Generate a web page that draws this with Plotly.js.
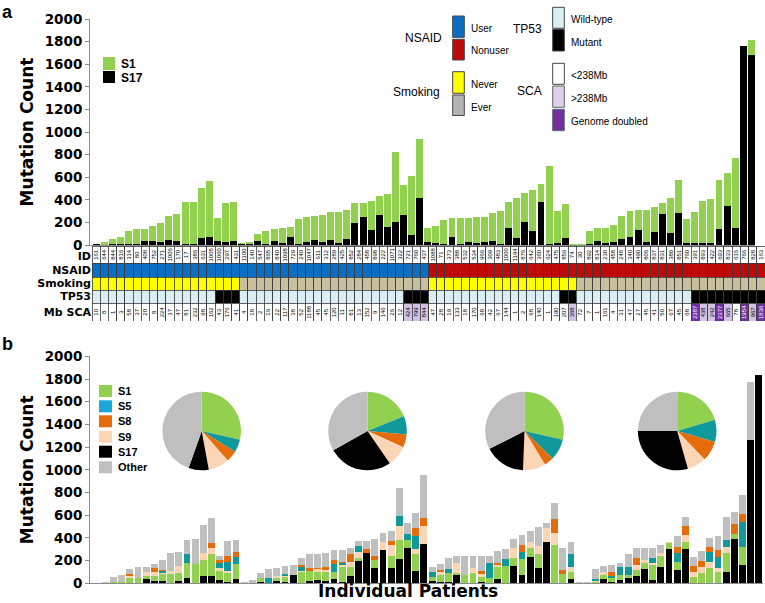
<!DOCTYPE html>
<html><head><meta charset="utf-8">
<script src="https://cdn.plot.ly/plotly-3.0.1.min.js"></script>
<style>html,body{margin:0;padding:0;background:#fff}#chart{width:765px;height:603px}</style>
</head><body><div id="chart"></div>
<script>
// ---------------- DATA ----------------
const patientIds = [161,644,844,816,314,80,408,752,271,1006,170,17,386,631,1005,1060,297,431,
 1100,140,547,865,840,1098,729,240,1047,611,312,289,425,852,284,458,898,222,1071,322,721,760,437,
 1088,71,373,388,532,534,966,309,483,1000,1194,876,642,360,624,475,856,74,
 30,892,814,230,458,248,340,490,806,837,831,380,851,760,
 391,893,422,693,833,616,766,828,163];
const nsaidCodes   = "UUUUUUUUUUUUUUUUUU|UUUUUUUUUUUUUUUUUUUUUUU|NNNNNNNNNNNNNNNNNN|NNNNNNNNNNNNNN|NNNNNNNNN";
const smokingCodes = "NNNNNNNNNNNNNNNNNN|EEEEEEEEEEEEEEEEEEEEEEE|NNNNNNNNNNNNNNNNNN|EEEEEEEEEEEEEE|EEEEEEEEE";
const tp53Codes    = "WWWWWWWWWWWWWWWMMM|WWWWWWWWWWWWWWWWWWWWMMM|WWWWWWWWWWWWWWWWMM|WWWWWWWWWWWWWW|MMMMMMMMM";
const scaCodes     = "LLLLLLLLLLLLLLLLLL|LLLLLLLLLLLLLLLLLLLLHHH|LLLLLLLLLLLLLLLLLH|LLLLLLLLLLLLLL|GHHGHLGHG";
const scaMb = [10,8,1,3,58,37,20,8,224,37,47,81,232,98,162,43,176,41,
 4,18,2,16,22,117,38,52,1188,45,45,120,11,81,13,152,9,146,26,12,424,799,844,
 47,28,19,133,18,170,68,42,67,144,1,2,68,140,1,190,207,368,
 72,7,1,161,4,31,47,27,45,41,50,67,45,68,
 2387,438,242,2377,665,78,1954,967,1836];

// panel a : S17 (black) and S1 (green segment)
const aS17 = [5,4,5,6,12,10,38,38,27,44,38,6,6,65,68,38,27,38,
 5,10,38,6,38,15,74,6,24,44,24,44,15,53,198,248,133,266,156,206,266,89,419,
 24,15,6,74,6,24,15,24,38,6,153,59,206,124,383,9,21,65,
 3,3,9,38,21,24,50,74,133,24,118,270,103,280,
 15,15,15,15,139,348,148,1763,1681];
const aS1 = [7,20,51,68,115,129,107,133,171,213,239,378,378,442,501,201,345,342,
 10,14,59,118,101,138,88,221,227,216,241,245,277,257,171,127,256,168,292,620,265,525,516,
 124,156,215,168,236,218,236,221,242,298,231,360,257,363,154,693,283,298,
 3,6,115,115,132,153,207,230,177,286,221,99,316,295,
 215,274,377,395,436,286,619,0,133];

// panel b : signature contributions
const bS17 = [0,0,0,0,0,0,35,24,24,0,18,44,0,62,65,29,10,35,
 0,0,15,0,21,15,74,0,20,29,24,38,15,65,200,265,138,294,132,214,308,109,347,
 24,15,15,70,0,0,15,0,38,0,156,74,229,132,367,0,0,38,
 0,0,6,38,15,29,44,65,123,29,141,303,118,300,
 0,0,0,0,103,388,160,1266,1835];
const bS1 = [0,0,10,8,50,44,29,41,56,82,70,132,170,144,194,79,78,132,
 0,5,29,6,24,38,0,100,92,74,74,65,132,82,21,0,68,0,109,167,74,150,0,
 35,59,74,25,74,88,44,50,109,150,65,138,79,126,0,338,82,65,
 0,0,6,35,29,44,29,53,53,132,100,50,74,68,
 59,88,138,103,162,44,160,0,0];
const bS9 = [0,0,0,0,15,0,38,38,15,26,65,0,0,65,50,24,21,0,
 0,0,0,0,15,12,0,10,0,20,18,0,12,44,59,0,0,74,97,126,0,41,162,
 0,29,0,80,0,44,20,0,15,0,88,0,59,74,118,103,0,38,
 0,0,6,29,0,0,0,44,29,21,29,15,0,59,
 44,59,53,29,59,0,0,0,0];
const bS5 = [0,0,0,0,0,0,0,0,12,0,0,82,0,0,0,44,82,68,
 0,0,0,38,0,18,0,35,0,0,0,65,20,0,50,0,0,0,0,85,53,118,0,
 44,0,35,0,0,0,0,132,0,65,0,68,0,0,0,0,0,115,
 0,0,18,0,20,68,68,0,0,38,0,0,79,0,
 0,0,88,103,59,0,222,0,0];
const bS8 = [3,0,0,0,21,0,0,35,12,0,0,0,0,0,47,29,53,44,
 0,0,0,0,0,0,0,12,26,15,26,38,12,65,0,41,35,0,35,0,0,68,65,
 0,15,0,0,0,0,29,0,15,0,0,53,0,0,0,123,35,0,
 0,4,0,0,38,0,0,59,0,0,0,0,53,74,
 50,50,44,59,0,91,66,0,0];
const bOther = [3,9,49,65,41,97,41,29,88,156,123,124,218,241,218,32,129,103,
 15,24,50,79,79,70,88,70,118,118,123,88,103,53,44,70,150,74,88,244,100,132,382,
 38,53,97,67,168,109,133,59,108,90,79,94,97,162,50,147,191,112,
 9,5,88,50,59,41,118,88,103,88,68,0,97,82,
 82,88,74,123,197,109,166,510,0];

// pies (share of each signature)
const pieLabels = ["S1","S5","S8","S9","S17","Other"];
const pie1 = [286,52,47,86,83,446];
const pie2 = [189,75,54,86,264,332];
const pie3 = [286,88,39,93,169,325];
const pie4 = [204,91,83,78,294,250];

const yTicks = [0,200,400,600,800,1000,1200,1400,1600,1800,2000];
const rowLabels = ["ID","NSAID","Smoking","TP53","Mb SCA"];

// ---------------- STYLE ----------------
const W = 765, H = 603;
const px = v => v / W, py = v => 1 - v / H;
const C = {S1:'#92d050', S5:'#10989a', S8:'#e46c0a', S9:'#fcd5b5', S17:'#000000', Other:'#bfbfbf'};
const pieColors = [C.S1, C.S5, C.S8, C.S9, C.S17, C.Other];
const AX = '#8c8c8c';
const codes = s => s.replace(/\|/g, '').split('');
const idx = patientIds.map((_, i) => i);

const traces = [];
// panel a
traces.push({type:'bar', name:'S17', x:idx, y:aS17, xaxis:'x', yaxis:'y', width:0.86, marker:{color:C.S17}});
traces.push({type:'bar', name:'S1',  x:idx, y:aS1,  xaxis:'x', yaxis:'y', width:0.86, marker:{color:C.S1}});

// annotation strip (stacked rows)
const rowH = [17, 14, 13, 13, 18];
const nsaidCol = {U:'#0a6fc2', N:'#bf0a0a'};
const smokeCol = {N:'#ffff00', E:'#c8bf9f'};
const tpCol = {W:'#dbeef3', M:'#000000'};
const scaCol = {L:'#ffffff', H:'#d3c3e2', G:'#7030a0'};
const cellLine = {color:'#3a3a3a', width:0.8};
function stripTrace(r, colors, text, textColors){
  const t = {type:'bar', x:idx, y:idx.map(() => rowH[r]), xaxis:'x2', yaxis:'y2', width:1,
    marker:{color:colors, line:cellLine}};
  if (text) {
    t.text = text; t.textposition = 'inside'; t.insidetextanchor = 'middle';
    t.textangle = -90; t.constraintext = 'none';
    t.textfont = {family:'Liberation Sans', size:6, color:textColors || '#000'};
  }
  return t;
}
traces.push(stripTrace(0, idx.map(() => '#ffffff'), patientIds.map(String)));
traces.push(stripTrace(1, codes(nsaidCodes).map(c => nsaidCol[c])));
traces.push(stripTrace(2, codes(smokingCodes).map(c => smokeCol[c])));
traces.push(stripTrace(3, codes(tp53Codes).map(c => tpCol[c])));
const scaC = codes(scaCodes);
traces.push(stripTrace(4, scaC.map(c => scaCol[c]), scaMb.map(String), scaC.map(c => c === 'G' ? '#ffffff' : '#000000')));

// panel b
[['S17', bS17], ['S1', bS1], ['S9', bS9], ['S5', bS5], ['S8', bS8], ['Other', bOther]].forEach(([n, v]) => {
  traces.push({type:'bar', name:n, x:idx, y:v, xaxis:'x3', yaxis:'y3', width:0.84, marker:{color:C[n]}});
});

// pies
[[pie1, 201.7], [pie2, 367.5], [pie3, 524.5], [pie4, 677.2]].forEach(([v, cx]) => {
  const r = 39.3, cy = 431;
  traces.push({type:'pie', labels:pieLabels, values:v, sort:false, direction:'clockwise', rotation:0,
    textinfo:'none', hoverinfo:'skip', showlegend:false,
    marker:{colors:pieColors, line:{width:0}},
    domain:{x:[px(cx - r), px(cx + r)], y:[py(cy + r), py(cy - r)]}});
});

// ---------------- DECORATION ----------------
const shapes = [], annotations = [];
function box(x0, y0, x1, y1, fill, line){
  shapes.push({type:'rect', xref:'paper', yref:'paper', x0:px(x0), x1:px(x1), y0:py(y1), y1:py(y0),
    fillcolor:fill, line:line ? {color:line, width:1} : {width:0}});
}
function label(text, x, y, opt){
  opt = opt || {};
  annotations.push({text, x:px(x), y:py(y), xref:'paper', yref:'paper', showarrow:false,
    xanchor:opt.xa || 'left', yanchor:opt.ya || 'middle',
    font:{family:opt.family || 'Liberation Sans', size:opt.size || 10, color:'#000', weight:opt.weight || 'normal'}});
}
// panel letters
label('a', 0, 0, {size:18, weight:'bold', ya:'top'});
label('b', 0, 332, {size:18, weight:'bold', ya:'top'});
// panel a legend
box(103, 57, 115, 70, C.S1); box(103, 71, 115, 83, C.S17);
label('S1', 119, 64, {size:12, weight:'bold'});
label('S17', 119, 78, {size:12, weight:'bold'});
// NSAID / Smoking
label('NSAID', 444, 38, {size:12, xa:'right'});
box(452.7, 16, 464.3, 37.3, nsaidCol.U, '#444'); box(452.7, 39.3, 464.3, 60, nsaidCol.N, '#444');
label('User', 469, 28); label('Nonuser', 469, 51);
label('Smoking', 442, 92, {size:12, xa:'right'});
box(452.7, 71.7, 464.3, 93.3, '#ffff00', '#444'); box(452.7, 95, 464.3, 115.5, '#b4b4b4', '#444');
label('Never', 469, 84); label('Ever', 469, 107.7);
// TP53 / SCA
label('TP53', 544, 29.3, {size:12, xa:'right'});
box(552.7, 7.3, 564.3, 28.3, tpCol.W, '#444'); box(552.7, 29.3, 564.3, 51, '#000', '#444');
label('Wild-type', 569, 20); label('Mutant', 569, 42.3);
label('SCA', 544, 90.7, {size:12, xa:'right'});
box(552.7, 63.3, 564.3, 84.3, '#ffffff', '#444'); box(552.7, 86, 564.3, 107.3, '#ddd0e8', '#666');
box(552.7, 109.3, 564.3, 130.7, '#7030a0', '#666');
label('<238Mb', 569, 75.7); label('>238Mb', 569, 98.3); label('Genome doubled', 569, 121.7);
// panel b legend
const legB = [['S1', '#92d050'], ['S5', '#1aa7d9'], ['S8', C.S8], ['S9', C.S9], ['S17', '#000'], ['Other', C.Other]];
const legY = [391, 406.3, 421.3, 436.7, 451.7, 467.3];
legB.forEach(([n, col], i) => { box(99, legY[i] - 6, 112, legY[i] + 6, col); label(n, 116, legY[i], {size:11, weight:'bold'}); });
// x title panel b
label('Individual Patients', 408, 603, {size:17, weight:'bold', xa:'center', ya:'bottom', family:'DejaVu Sans'});

const tickFont = {family:'DejaVu Sans', size:13.5, weight:'bold', color:'#000'};
const yTitle = {text:'Mutation Count', font:{family:'DejaVu Sans', size:17, weight:'bold', color:'#000'}, standoff:6};
const yBase = {range:[0, 2000], tickvals:yTicks, ticks:'outside', ticklen:4, tickcolor:AX, showline:true,
  linecolor:AX, linewidth:1, showgrid:false, zeroline:false, tickfont:tickFont, title:yTitle, fixedrange:true, automargin:false};

const layout = {
  width:W, height:H, margin:{l:0, r:0, t:0, b:0}, paper_bgcolor:'#fff', plot_bgcolor:'rgba(0,0,0,0)',
  barmode:'stack', bargap:0.12, showlegend:false, hovermode:false,
  font:{family:'Liberation Sans', color:'#000'},
  xaxis:{domain:[px(90), px(755.4)], range:[-0.747, 81.5], anchor:'y', showticklabels:false, ticks:'',
    showline:true, linecolor:AX, showgrid:false, zeroline:false, fixedrange:true},
  yaxis:Object.assign({}, yBase, {domain:[py(245), py(19)], anchor:'x'}),
  xaxis2:{domain:[px(92), px(765)], range:[-0.5, 81.5], anchor:'y2', visible:false, fixedrange:true},
  yaxis2:{domain:[py(321), py(246)], range:[75, 0], anchor:'x2', tickvals:[10, 24, 37.5, 50.5, 66], ticktext:rowLabels,
    ticks:'', showline:false, showgrid:false, zeroline:false, fixedrange:true, automargin:false,
    tickfont:{family:'DejaVu Sans', size:11, weight:'bold', color:'#000'}},
  xaxis3:{domain:[px(90), px(763)], range:[-0.867, 81.5], anchor:'y3', showticklabels:false, ticks:'',
    showline:true, linecolor:AX, showgrid:false, zeroline:false, fixedrange:true},
  yaxis3:Object.assign({}, yBase, {domain:[py(583.3), py(356.3)], anchor:'x3'}),
  shapes, annotations
};
Plotly.newPlot('chart', traces, layout, {displayModeBar:false, staticPlot:true});
</script>
</body></html>
